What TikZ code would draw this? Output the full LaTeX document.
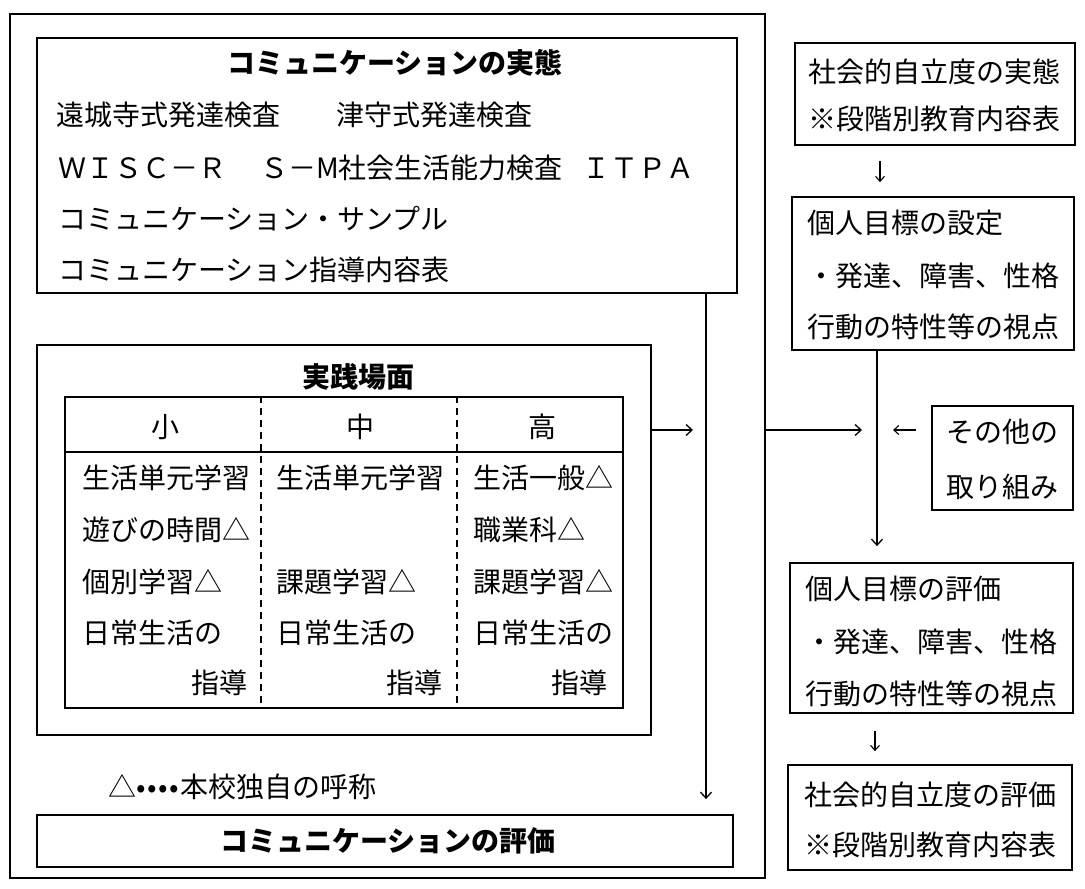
\documentclass[tikz,border=0pt]{standalone}
\usepackage{fontspec}
\setmainfont{Liberation Serif}
\newfontfamily\jp{Noto Sans CJK JP}
\usetikzlibrary{arrows.meta,fit}
\newcommand\legdot{\makebox[11pt]{•}}
\begin{document}
\begin{tikzpicture}[x=1pt,y=-1pt,
  every node/.style={inner sep=0pt},
  txt/.style={font=\jp\fontsize{28}{34}\selectfont, text height=24.6pt, text depth=3.4pt},
  btxt/.style={font=\jp\bfseries\fontsize{28}{34}\selectfont, text height=24.6pt, text depth=3.4pt},
  box/.style={draw, line width=1.8pt, rectangle, inner sep=0pt},
  obox/.style={draw, line width=2.6pt, rectangle, inner sep=0pt},
  conn/.style={line width=1.5pt, -{Straight Barb[length=6pt,width=11pt,line width=1.3pt]}},
  small/.style={line width=1.1pt, -{Straight Barb[length=5pt,width=9pt,line width=1.1pt]}},
  dashln/.style={line width=1.3pt, dash pattern=on 7pt off 5pt}
]
\useasboundingbox[fill=white] (0,0) rectangle (1085,889);

% ---------- boxes ----------
\node[obox, fit={(10,14)(765,878)}] (outer) {};
\node[box, fit={(37,38)(737,293)}] (top) {};
\node[box, fit={(37,345)(651,735)}] (mid) {};
\node[box, fit={(65,397)(623,708)}] (tab) {};
\node[box, fit={(37,815)(733,867)}] (eval) {};
\node[box, fit={(795,43)(1075,145)}] (r1) {};
\node[box, fit={(792,197)(1074,350)}] (r2) {};
\node[box, fit={(932,406)(1073,510)}] (other) {};
\node[box, fit={(790,563)(1073,713)}] (r3) {};
\node[box, fit={(788,765)(1072,870)}] (r4) {};

% ---------- top box text ----------
\node[btxt] (ttl) at (395,63) {コミュニケーションの実態};
\node[txt, anchor=west] (l1) at (56,115) {遠城寺式発達検査　　津守式発達検査};
\node[txt, anchor=west] (l2) at (58,168) {ＷＩＳＣ－Ｒ\hspace{34pt}Ｓ－M社会生活能力検査\hspace{20pt}ＩＴＰＡ};
\node[txt, anchor=west] (l3) at (58,219) {コミュニケーション・サンプル};
\node[txt, anchor=west] (l4) at (58,270) {コミュニケーション指導内容表};

% ---------- practice table ----------
\node[btxt] (jt) at (358,377) {実践場面};
\draw[line width=1.6pt] (tab.west |- 0,452) -- (tab.east |- 0,452);
\draw[dashln] (tab.north -| 261,0) -- (tab.south -| 261,0);
\draw[dashln] (tab.north -| 457,0) -- (tab.south -| 457,0);
\node[txt] (h1) at (165,427) {小};
\node[txt] (h2) at (360,427) {中};
\node[txt] (h3) at (542,427) {高};

\node[txt, anchor=west] (a1) at (82,478) {生活単元学習};
\node[txt, anchor=west] (a2) at (82,530) {遊びの時間△};
\node[txt, anchor=west] (a3) at (82,582) {個別学習△};
\node[txt, anchor=west] (a4) at (82,633) {日常生活の};
\node[txt, anchor=east] (a5) at (248,683) {指導};

\node[txt, anchor=west] (b1) at (276,478) {生活単元学習};
\node[txt, anchor=west] (b3) at (276,582) {課題学習△};
\node[txt, anchor=west] (b4) at (276,633) {日常生活の};
\node[txt, anchor=east] (b5) at (443,683) {指導};

\node[txt, anchor=west] (c1) at (473,478) {生活一般△};
\node[txt, anchor=west] (c2) at (473,530) {職業科△};
\node[txt, anchor=west] (c3) at (473,582) {課題学習△};
\node[txt, anchor=west] (c4) at (473,633) {日常生活の};
\node[txt, anchor=east] (c5) at (608,683) {指導};

% ---------- legend and evaluation ----------
\node[txt, anchor=west] (leg) at (108,787) {△\legdot\legdot\legdot\legdot 本校独自の呼称};
\node[btxt] (evt) at (388,841) {コミュニケーションの評価};

% ---------- right column text ----------
\node[txt, anchor=west] (r1a) at (808,72) {社会的自立度の実態};
\node[txt, anchor=west] (r1b) at (808,119) {※段階別教育内容表};
\node[txt, anchor=west] (r2a) at (807,223) {個人目標の設定};
\node[txt, anchor=west] (r2b) at (807,276) {・発達、障害、性格};
\node[txt, anchor=west] (r2c) at (807,327) {行動の特性等の視点};
\node[txt] (oa) at (1002.5,432) {その他の};
\node[txt] (ob) at (1002.5,487) {取り組み};
\node[txt, anchor=west] (r3a) at (805,589) {個人目標の評価};
\node[txt, anchor=west] (r3b) at (805,642) {・発達、障害、性格};
\node[txt, anchor=west] (r3c) at (805,694) {行動の特性等の視点};
\node[txt, anchor=west] (r4a) at (804,795) {社会的自立度の評価};
\node[txt, anchor=west] (r4b) at (804,845) {※段階別教育内容表};

% ---------- connectors ----------
\coordinate (m1) at (693,430);
\coordinate (o1) at (862,430);
\coordinate (e1) at (893,430);
\draw[conn, shorten >=15pt] (top.south -| 706,0) -- (eval.north -| 706,0);
\draw[conn] (mid.east |- m1) -- (m1);
\draw[conn] (outer.east |- o1) -- (o1);
\draw[conn, shorten >=16pt] (r2.south -| 877,0) -- (r3.north -| 877,0);
\draw[small, shorten <=15pt] (other.west |- e1) -- (e1);
\draw[small, shorten <=15pt, shorten >=14pt] (r1.south -| 880,0) -- (r2.north -| 880,0);
\draw[small, shorten <=17pt, shorten >=13pt] (r3.south -| 875,0) -- (r4.north -| 875,0);
\end{tikzpicture}
\end{document}
